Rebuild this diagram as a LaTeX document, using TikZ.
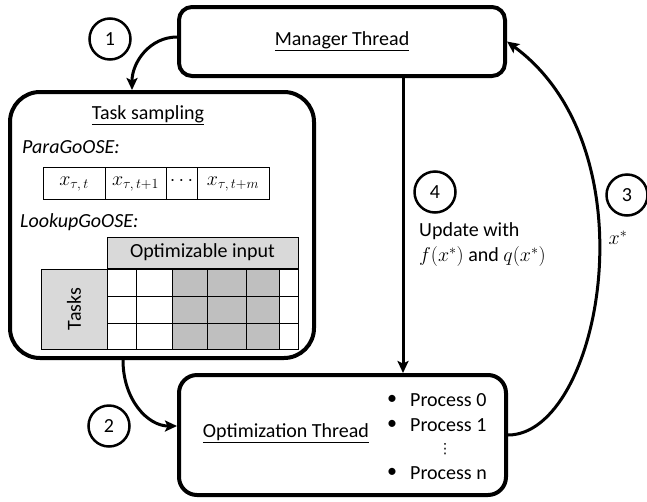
\RequirePackage{fix-cm}
\documentclass[tikz,border=0pt]{standalone}
\usepackage[no-math]{fontspec}
\setmainfont{Carlito}
\newfontfamily\djv{DejaVu Sans}
\usetikzlibrary{arrows.meta}
\definecolor{lg}{HTML}{D9D9D9}
\definecolor{dg}{HTML}{BFBFBF}
\begin{document}
\begin{tikzpicture}[x=1pt,y=-1pt,
  font=\fontsize{20}{24}\selectfont,
  box/.style={draw, line width=4pt, inner sep=0pt},
  num/.style={draw, circle, line width=2.5pt, minimum size=41pt, inner sep=0pt},
  conn/.style={line width=3pt, -{Stealth[length=12pt,width=11pt,inset=2.5pt]}},
  cell/.style={draw, line width=0.8pt},
  txt/.style={inner sep=0pt}]
\useasboundingbox (0,0) rectangle (647,501);

% Task sampling contents (drawn before the box border)
\fill[lg] (107,237) rectangle (298,268);
\fill[lg] (41,269) rectangle (107,349);
\fill[dg] (172,269) rectangle (279,349);
\draw[cell] (107,237) rectangle (298,268);
\draw[cell] (41,269) rectangle (107,349);
\foreach \xa/\xb in {107/136,136/172,172/207,207/246,246/279,279/298}
  \foreach \ya/\yb in {269/296,296/323,323/349}
    \draw[cell] (\xa,\ya) rectangle (\xb,\yb);
\node[txt] (optin) at (202.5,252.5) {Optimizable input};
\node[txt, rotate=90] (tasks) at (74,309) {Tasks};

\foreach \xa/\xb in {43/105,105/166,166/197,197/269}
  \draw[cell] (\xa,167) rectangle (\xb,199);
\node[txt] (c1) at (74,184) {$x_{\tau,\,t}$};
\node[txt] (c2) at (135.5,184) {$x_{\tau,\,t+1}$};
\node[txt] (c3) at (181.5,181) {$\cdots$};
\node[txt] (c4) at (233,184) {$x_{\tau,\,t+m}$};

\node[txt] (ts) at (148,115) {\underline{Task sampling}};
\node[txt, anchor=west] (pg) at (22,147) {\itshape ParaGoOSE:};
\node[txt, anchor=west] (lg) at (20,222) {\itshape LookupGoOSE:};

% Boxes
\node[box, rounded corners=13pt, minimum width=326pt, minimum height=69pt] (mgr) at (342,41.5) {\underline{Manager Thread}};
\node[box, rounded corners=30pt, minimum width=304pt, minimum height=266pt] (task) at (162,225) {};
\node[box, rounded corners=18pt, minimum width=327pt, minimum height=120pt] (opt) at (342.5,435) {};

\node[txt] (ot) at (286,433) {\underline{Optimization Thread}};
\node[txt] (b0) at (392,400) {•};
\node[txt, anchor=west] (p0) at (410,400) {Process 0};
\node[txt] (b1) at (392,425) {•};
\node[txt, anchor=west] (p1) at (410,425) {Process 1};
\node[txt, font=\djv\fontsize{14}{14}\selectfont] (vd) at (445,449) {⋮};
\node[txt] (b2) at (392,473) {•};
\node[txt, anchor=west] (p2) at (410,473) {Process n};

% numbered circles
\node[num] (n1) at (110,39) {1};
\node[num] (n2) at (109,426) {2};
\node[num] (n3) at (627,195) {3};
\node[num] (n4) at (435,192) {4};

% labels
\node[txt, anchor=west, align=left, font=\fontsize{20}{25}\selectfont] (upd) at (419,245) {Update with\\$f(x^*)$ and $q(x^*)$};
\node[txt] (xs) at (618,238) {$x^*$};

% connectors
\coordinate (a4) at (403,0);
\draw[conn] ([yshift=4.5pt]mgr.west) .. controls (150,37) and (132,62) .. ([xshift=-30pt]task.north);
\draw[conn] ([xshift=-39pt]task.south) .. controls (123,400) and (148,426) .. ([yshift=9pt]opt.west);
\draw[conn] (opt.east) .. controls (600,435) and (655,150) .. (mgr.east);
\draw[conn] (mgr.south -| a4) -- (opt.north -| a4);
\end{tikzpicture}
\end{document}
